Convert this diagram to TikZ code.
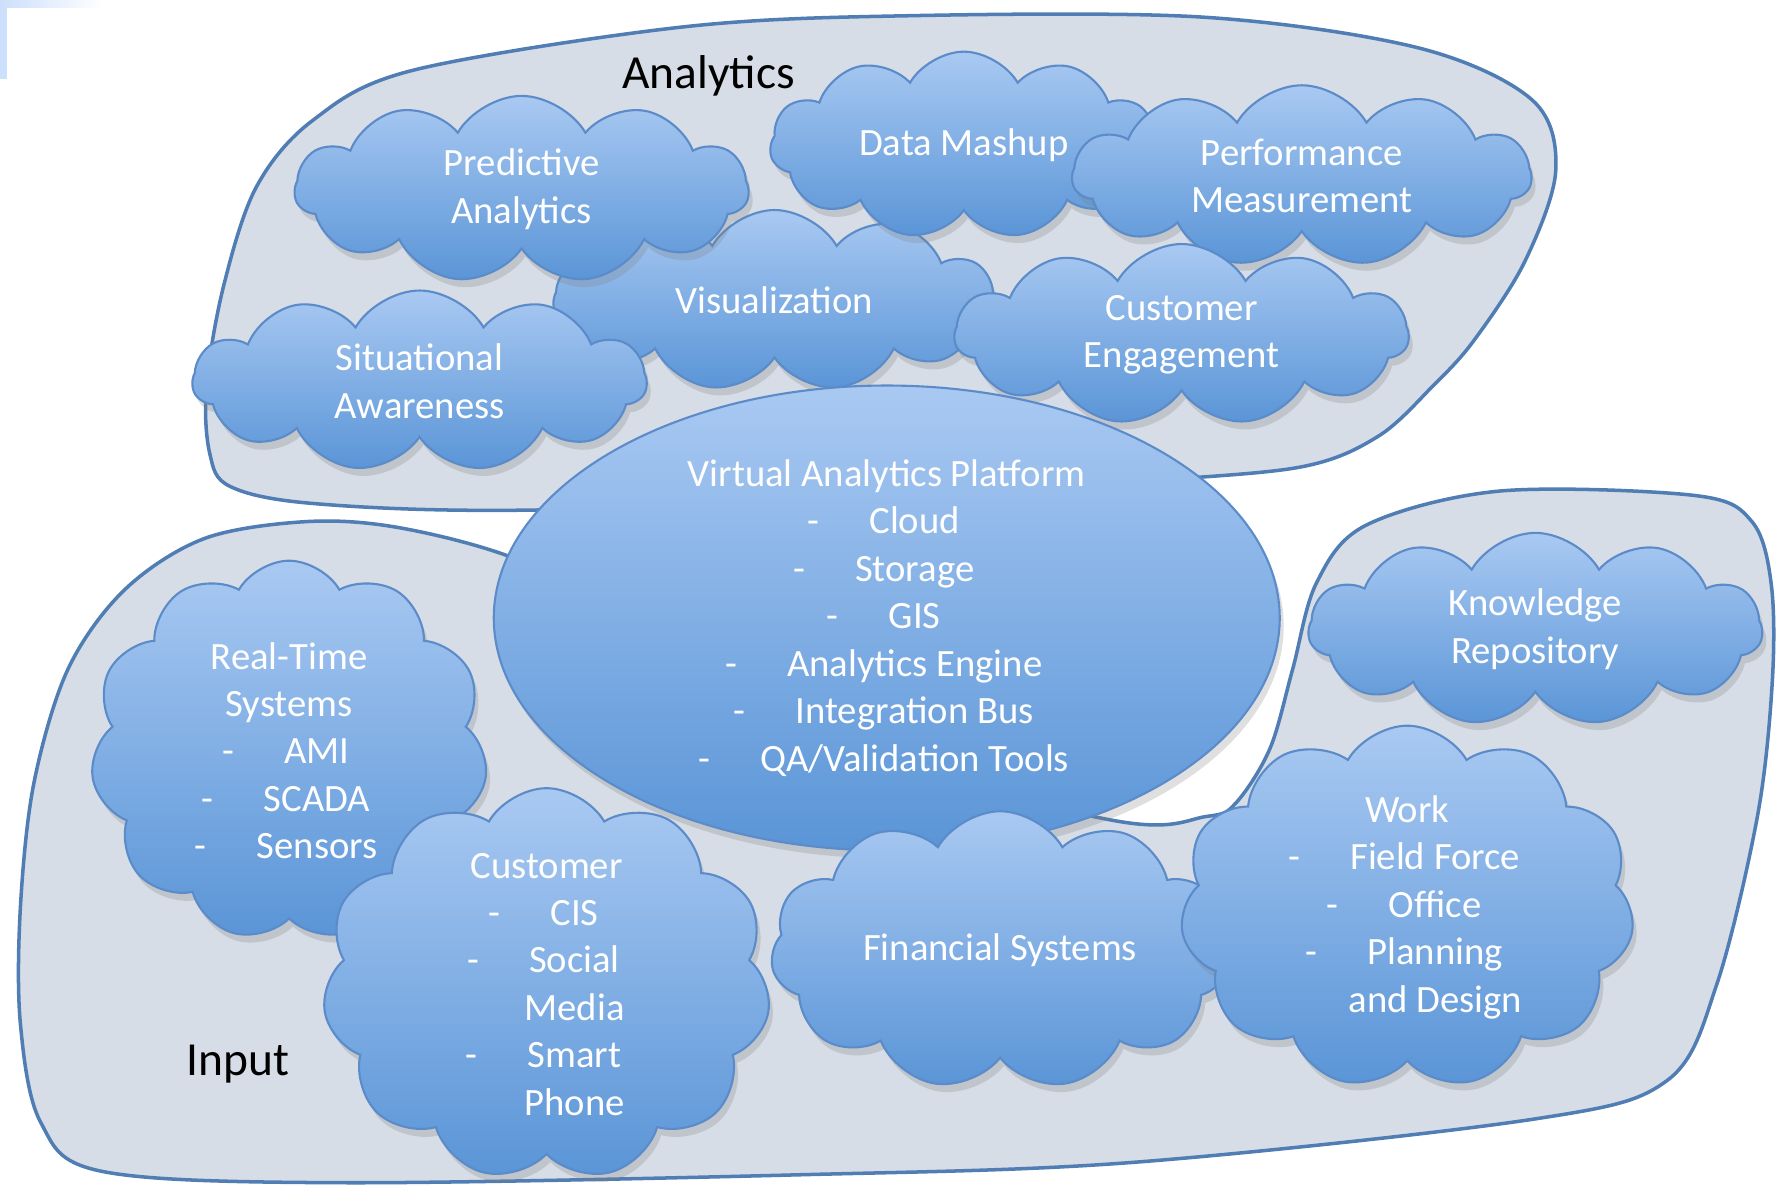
\documentclass[tikz,border=0pt]{standalone}
\usepackage{fontspec}
\setmainfont{Carlito}
\usetikzlibrary{shapes.symbols,shapes.geometric,shadows}

\definecolor{regionfill}{HTML}{D6DDE6}
\definecolor{regionline}{HTML}{4F7DB4}
\definecolor{cloudtop}{HTML}{A9C9F2}
\definecolor{cloudbottom}{HTML}{5A95D7}
\definecolor{cloudline}{HTML}{5B8BC8}
\definecolor{cornerblue}{HTML}{CCDFFB}

% list line: dash hangs left of the word
\newcommand{\dl}[1]{\hspace*{5.6mm}\llap{-\hspace{1.3em}}#1}

\begin{document}
\begin{tikzpicture}[x=0.1134mm,y=-0.1134mm,
    region/.style={draw=regionline,line width=1pt,fill=regionfill},
    cloudnode/.style={cloud,cloud puffs=11,cloud puff arc=120,cloud ignores aspect,
        draw=cloudline,line width=0.6pt,top color=cloudtop,bottom color=cloudbottom,
        drop shadow={shadow xshift=0.4mm,shadow yshift=-0.8mm,opacity=0.25},
        inner sep=0pt,text=white,align=center,font=\fontsize{11}{13.5}\selectfont},
    platform/.style={ellipse,draw=cloudline,line width=0.6pt,
        top color=cloudtop,bottom color=cloudbottom,
        drop shadow={shadow xshift=0.4mm,shadow yshift=-0.8mm,opacity=0.25},
        inner sep=0pt,text=white,align=center,font=\fontsize{11}{13.5}\selectfont},
    title/.style={font=\fontsize{13.5}{16}\selectfont}]

    \useasboundingbox (0,0) rectangle (1568,1049);

    % corner mark
    \fill[cornerblue] (0,0) rectangle (6,70);
    \shade[left color=cornerblue,right color=white] (0,0) rectangle (91,7);

    % Define regions
    \draw[region] plot[smooth cycle,tension=0.55] coordinates {
        (364,62) (600,24) (794,14) (1059,15) (1250,42) (1351,88) (1372,150)
        (1345,230) (1300,300) (1264,340) (1215,385) (1146,412) (1000,425)
        (800,440) (452,450) (276,444) (203,429) (185,400) (182,341) (197,253)
        (226,165) (276,106)};
    \draw[region] plot[smooth cycle,tension=0.55] coordinates {
        (450,491) (350,465) (270,460) (180,475) (110,520) (60,590) (30,690)
        (18,800) (18,903) (36,990) (90,1033) (300,1043) (705,1036) (1000,1025)
        (1352,987) (1470,953) (1514,868) (1550,719) (1563,600) (1562,515)
        (1545,460) (1495,437) (1323,433) (1205,463) (1161,514) (1140,590)
        (1120,660) (1090,708) (1064,720) (979,723) (700,650) (550,540)};

    % Define clouds
    \node[cloudnode,minimum width=4.42cm,minimum height=1.81cm] (vis) at (683,265) {Visualization};
    \node[cloudnode,minimum width=4.54cm,minimum height=1.87cm] (pred) at (460,167) {Predictive\\Analytics};
    \node[cloudnode,minimum width=4.54cm,minimum height=1.81cm] (situ) at (370,336) {Situational\\Awareness};
    \node[cloudnode,minimum width=3.88cm,minimum height=1.87cm] (mash) at (850,128) {Data Mashup};
    \node[cloudnode,minimum width=4.59cm,minimum height=1.81cm] (perf) at (1148,155) {Performance\\Measurement};
    \node[cloudnode,minimum width=4.54cm,minimum height=1.81cm] (engage) at (1042,295) {Customer\\Engagement};

    \node[platform,minimum width=7.86cm,minimum height=4.65cm] (vap) at (782,545)
        {Virtual Analytics Platform\\\dl{Cloud}\\\dl{Storage}\\\dl{GIS}\\
         \dl{Analytics Engine}\\\dl{Integration Bus}\\\dl{QA/Validation Tools}};

    \node[cloudnode,minimum width=3.97cm,minimum height=3.80cm] (realtime) at (255,662)
        {Real-Time\\Systems\\\dl{AMI}\\\dl{SCADA}\\\dl{Sensors}};
    \node[cloudnode,minimum width=4.54cm,minimum height=1.93cm] (know) at (1354,555) {Knowledge\\Repository};
    \node[cloudnode,minimum width=4.59cm,minimum height=2.78cm] (fin) at (882,838) {Financial Systems};
    \node[cloudnode,minimum width=4.48cm,minimum height=3.69cm] (cust) at (482,868)
        {Customer\\\dl{CIS}\\\dl{Social}\\\hspace*{5.6mm}Media\\\dl{Smart}\\\hspace*{5.6mm}Phone};
    \node[cloudnode,minimum width=4.54cm,minimum height=3.63cm] (work) at (1241,800)
        {Work\\\dl{Field Force}\\\dl{Office}\\\dl{Planning}\\\hspace*{5.6mm}and Design};

    % Region titles
    \node[title] (analytics) at (625,67) {Analytics};
    \node[title] (input) at (210,938) {Input};

\end{tikzpicture}
\end{document}
